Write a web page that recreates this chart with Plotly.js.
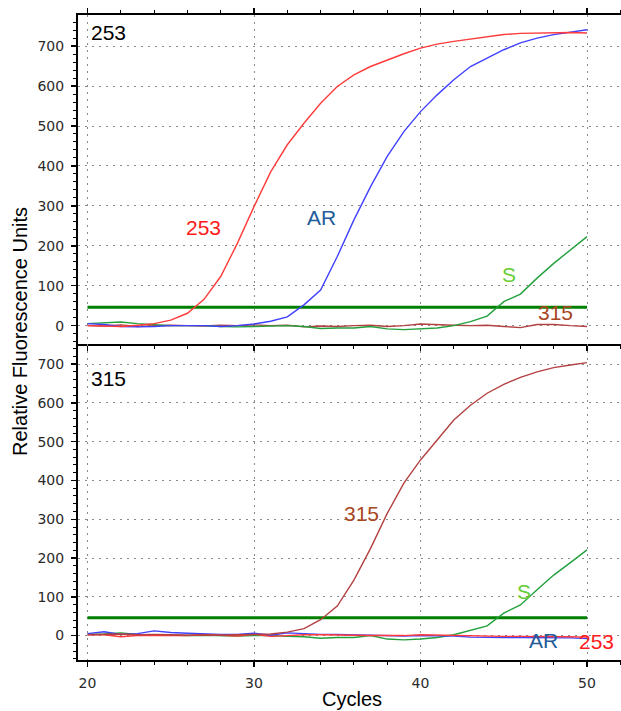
<!DOCTYPE html>
<html>
<head>
<meta charset="utf-8">
<script src="https://cdn.plot.ly/plotly-3.0.1.min.js"></script>
<style>
  html, body { margin: 0; padding: 0; background: #fff; }
  #chart { width: 621px; height: 711px; }
</style>
</head>
<body>
<div id="chart"></div>
<script>
// ---- data ----
const cycles = [20,21,22,23,24,25,26,27,28,29,30,31,32,33,34,35,36,37,38,39,40,41,42,43,44,45,46,47,48,49,50];

// Top panel (channel 253)
const top253 = [0,-1,-2,1,5,14,31,66,123,206,298,385,453,507,557,599,628,649,666,681,695,705,712,718,724,729,732,733,734,734,733];
const topAR  = [5,3,-2,-3,-2,0,0,0,-2,0,4,11,22,52,89,173,265,348,424,486,536,578,616,649,670,691,708,720,729,735,741];
const topS   = [5,7,9,5,2,0,0,0,-2,-3,-2,-1,0,-2,-7,-6,-6,-2,-8,-10,-8,-6,0,10,24,60,79,119,156,190,223];
const top315 = [0,-1,2,-2,0,1,0,-1,1,0,2,0,1,-3,-1,-2,0,1,-2,0,4,2,1,0,1,-2,-5,3,3,0,-2];

// Bottom panel (channel 315)
const bot315 = [2,3,4,2,3,2,1,2,1,2,3,4,9,18,41,76,143,225,315,393,453,504,556,594,625,648,666,680,691,698,704];
const botS   = [3,4,7,3,2,1,0,1,0,-1,0,0,-2,-3,-7,-5,-5,0,-9,-11,-9,-5,2,13,25,58,79,118,156,188,221];
const botAR  = [5,10,3,5,12,8,6,4,3,3,6,1,7,5,3,3,2,0,0,-1,0,0,-1,-4,-5,-5,-5,-5,-5,-6,-8];
const bot253 = [2,2,-3,0,0,1,0,2,1,-1,3,-2,0,2,2,1,0,0,0,0,2,1,0,0,-1,-2,-2,-2,-2,-3,-4];

// Threshold
const thresholdX = [20, 50];
const thresholdTop = 46;
const thresholdBot = 46;

const panelNames = ['253', '315'];
const xTickVals = [20, 30, 40, 50];
const xTickText = ['20', '30', '40', '50'];

// ---- styling ----
const C_RED = '#ff3b3b', C_BLUE = '#4040ff', C_GREEN = '#22a03c', C_BROWN = '#b34141', C_THR = '#008000';
const LW = 1.4;

function line(x, y, color, xa, ya, w) {
  return {x: x, y: y, type: 'scatter', mode: 'lines', xaxis: xa, yaxis: ya,
          line: {color: color, width: w || LW}, hoverinfo: 'skip', showlegend: false};
}

const traces = [
  line(thresholdX, thresholdX.map(() => thresholdTop), C_THR, 'x', 'y', 3),
  line(cycles, top315, C_BROWN, 'x', 'y'),
  line(cycles, topS, C_GREEN, 'x', 'y'),
  line(cycles, topAR, C_BLUE, 'x', 'y'),
  line(cycles, top253, C_RED, 'x', 'y'),
  line(thresholdX, thresholdX.map(() => thresholdBot), C_THR, 'x2', 'y2', 3),
  line(cycles, botS, C_GREEN, 'x2', 'y2'),
  line(cycles, botAR, C_BLUE, 'x2', 'y2'),
  line(cycles, bot253, C_RED, 'x2', 'y2'),
  line(cycles, bot315, C_BROWN, 'x2', 'y2'),
];

const XR = [19.43, 52.04];
const YR1 = [-46, 778], YR2 = [-63, 752];
const SPLIT = 0.4899;
const tickFont = {family: 'DejaVu Sans', size: 14, color: '#2a2a2a'};
const gridStyle = {showgrid: true, gridcolor: '#8a8a8a', gridwidth: 1, griddash: '2px,5px'};

function xAxis(anchor, labels, mirror) {
  return Object.assign({
    range: XR, anchor: anchor, tickmode: 'array', tickvals: xTickVals, ticktext: xTickText,
    showticklabels: labels, ticks: 'outside', ticklen: 5, tickwidth: 1.5, tickcolor: '#000',
    minor: {dtick: 2, tick0: 20, ticks: 'outside', ticklen: 3, tickwidth: 1, tickcolor: '#000', showgrid: false},
    showline: true, linecolor: '#000', linewidth: 2, mirror: mirror, zeroline: false,
    tickfont: tickFont, ticklabelstandoff: 4, fixedrange: true
  }, gridStyle);
}
function yAxis(anchor, domain, range) {
  return Object.assign({
    domain: domain, range: range, anchor: anchor, tick0: 0, dtick: 100,
    ticks: 'outside', ticklen: 5, tickwidth: 1.5, tickcolor: '#000',
    minor: {dtick: 20, tick0: 0, ticks: 'outside', ticklen: 3, tickwidth: 1, tickcolor: '#000', showgrid: false},
    showline: true, linecolor: '#000', linewidth: 2, zeroline: false,
    tickfont: tickFont, ticklabelstandoff: 4, fixedrange: true
  }, gridStyle);
}
// overlay axes to draw the inner half of the crossing ticks
function xInner(over, anchor, mirror) {
  return {overlaying: over, anchor: anchor, range: XR, tickmode: 'array', tickvals: xTickVals,
    showticklabels: false, ticks: 'inside', ticklen: 4, tickwidth: 1.5, tickcolor: '#000',
    minor: {dtick: 2, tick0: 20, ticks: 'inside', ticklen: 4, tickwidth: 1, tickcolor: '#000', showgrid: false},
    showgrid: false, zeroline: false, showline: false, mirror: mirror, fixedrange: true};
}
function yInner(over, anchor, range) {
  return {overlaying: over, anchor: anchor, range: range, tick0: 0, dtick: 100,
    showticklabels: false, ticks: 'inside', ticklen: 4, tickwidth: 1.5, tickcolor: '#000',
    minor: {dtick: 20, tick0: 0, ticks: 'inside', ticklen: 4, tickwidth: 1, tickcolor: '#000', showgrid: false},
    showgrid: false, zeroline: false, showline: false, fixedrange: true};
}

function ann(text, x, y, color, xref, yref, size) {
  return {text: text, x: x, y: y, xref: xref, yref: yref, showarrow: false,
          xanchor: 'center', yanchor: 'middle',
          font: {family: 'Liberation Sans, Arial, sans-serif', size: size || 21, color: color}};
}

const layout = {
  width: 621, height: 711,
  margin: {l: 78, r: 0, t: 15, b: 51},
  paper_bgcolor: '#fff', plot_bgcolor: '#fff',
  showlegend: false,
  xaxis: xAxis('y', false, 'ticks'),
  yaxis: yAxis('x', [SPLIT, 1], YR1),
  xaxis2: xAxis('y2', true, false),
  yaxis2: yAxis('x2', [0, SPLIT], YR2),
  xaxis3: xInner('x', 'y', 'ticks'),
  yaxis3: yInner('y', 'x', YR1),
  xaxis4: xInner('x2', 'y2', false),
  yaxis4: yInner('y2', 'x2', YR2),
  annotations: [
    ann(panelNames[0], 21.26, 733, '#000', 'x', 'y'),
    ann('253', 26.95, 245, '#ff1a1a', 'x', 'y'),
    ann('AR', 34.05, 270, '#1f5c99', 'x', 'y'),
    ann('S', 45.33, 127, '#66cc33', 'x', 'y'),
    ann('315', 48.08, 33, '#a8461e', 'x', 'y'),
    ann(panelNames[1], 21.27, 663, '#000', 'x2', 'y2'),
    ann('315', 36.45, 314, '#a8461e', 'x2', 'y2'),
    ann('S', 46.2, 114, '#66cc33', 'x2', 'y2'),
    ann('AR', 47.4, -12, '#1f5c99', 'x2', 'y2'),
    ann('253', 50.54, -15, '#ff1a1a', 'x2', 'y2'),
    Object.assign(ann('Relative Fluorescence Units', -0.107, 0.51, '#000', 'paper', 'paper', 20), {textangle: -90}),
    ann('Cycles', 0.5046, -0.0612, '#000', 'paper', 'paper', 20)
  ]
};

Plotly.newPlot('chart', traces, layout, {staticPlot: true, displayModeBar: false});
</script>
</body>
</html>
